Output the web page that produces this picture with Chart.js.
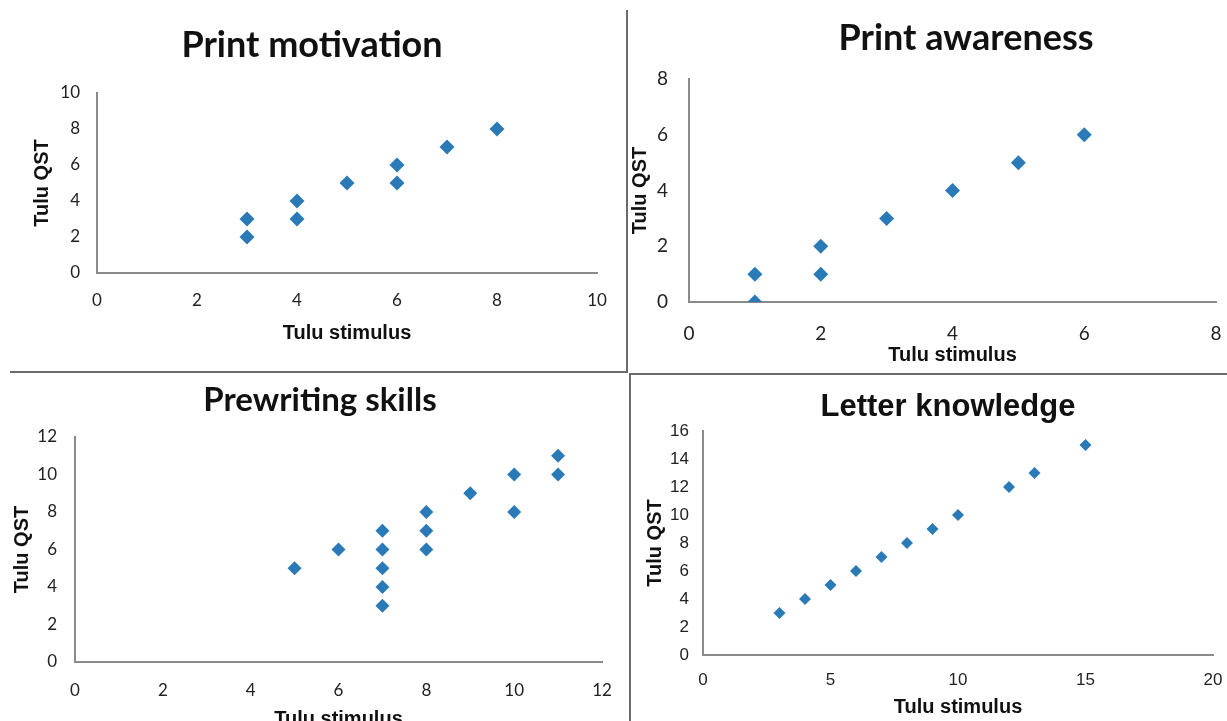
<!DOCTYPE html>
<html>
<head>
<meta charset="utf-8">
<script src="https://cdn.jsdelivr.net/npm/chart.js@4.4.1/dist/chart.umd.min.js"></script>
<style>
  html, body { margin: 0; padding: 0; background: #fff; width: 1227px; height: 721px; overflow: hidden; position: relative; }
  canvas { position: absolute; }
  .div-line { position: absolute; background: #6b6b6b; z-index: 5; }
</style>
</head>
<body>
<canvas id="c1" width="624" height="370" style="left:0px;top:0px;"></canvas>
<canvas id="c2" width="676" height="370" style="left:628px;top:0px;"></canvas>
<canvas id="c3" width="640" height="370" style="left:0px;top:376px;"></canvas>
<canvas id="c4" width="632" height="370" style="left:632px;top:376px;"></canvas>
<div class="div-line" style="left:626px;top:10px;width:2px;height:363px;"></div>
<div class="div-line" style="left:10px;top:371px;width:618px;height:2px;"></div>
<div class="div-line" style="left:629px;top:373px;width:598px;height:2px;"></div>
<div class="div-line" style="left:629px;top:373px;width:2px;height:348px;"></div>
<script>
// ---- Data ----
const titles = ["Print motivation", "Print awareness", "Prewriting skills", "Letter knowledge"];
const xAxisTitle = "Tulu stimulus";
const yAxisTitle = "Tulu QST";

const motivationX = [3, 3, 4, 4, 5, 6, 6, 7, 8];
const motivationY = [3, 2, 4, 3, 5, 6, 5, 7, 8];

const awarenessX = [1, 1, 2, 2, 3, 4, 5, 6];
const awarenessY = [1, 0, 2, 1, 3, 4, 5, 6];

const prewritingX = [5, 6, 7, 7, 7, 7, 7, 8, 8, 8, 9, 10, 10, 11, 11];
const prewritingY = [5, 6, 7, 6, 5, 4, 3, 8, 7, 6, 9, 10, 8, 11, 10];

const letterX = [3, 4, 5, 6, 7, 8, 9, 10, 12, 13, 15];
const letterY = [3, 4, 5, 6, 7, 8, 9, 10, 12, 13, 15];

// axis ranges [min, max, step]
const xRanges = [[0, 10, 2], [0, 8, 2], [0, 12, 2], [0, 20, 5]];
const yRanges = [[0, 10, 2], [0, 8, 2], [0, 12, 2], [0, 16, 2]];

// ---- Rendering ----
const MARKER = '#2a7ab8';
const AXIS = '#8a8a8a';

function makeChart(id, xs, ys, idx, L) {
  const pts = xs.map((x, i) => ({ x: x, y: ys[i] }));
  const xr = xRanges[idx], yr = yRanges[idx];
  return new Chart(document.getElementById(id), {
    type: 'scatter',
    data: { datasets: [{ data: pts, backgroundColor: MARKER, borderWidth: 0, pointStyle: 'rectRot', pointRadius: L.r, pointHoverRadius: L.r }] },
    options: {
      responsive: false, animation: false,
      layout: { padding: { left: 0, top: 0, bottom: 0, right: 0 } },
      plugins: {
        legend: { display: false }, tooltip: { enabled: false },
        title: { display: true, text: titles[idx], color: '#111',
          font: { family: L.titleFont, size: L.titleSize, weight: 'bold', lineHeight: 1.2 },
          padding: { top: L.titleTop, bottom: L.titleBottom } }
      },
      scales: {
        x: { type: 'linear', min: xr[0], max: xr[1],
          ticks: { stepSize: xr[2], padding: L.xTickPad, color: '#222', font: { family: L.tickFont, size: L.tickSize } },
          grid: { display: true, color: 'rgba(0,0,0,0)', drawTicks: false },
          border: { display: true, color: AXIS, width: 2 },
          title: { display: true, text: xAxisTitle, color: '#111', font: { family: 'Liberation Sans', size: 20, weight: 'bold', lineHeight: 1.2 }, padding: { top: 0, bottom: L.xTitlePad } },
          afterFit: s => { s.height = L.xH; } },
        y: { type: 'linear', min: yr[0], max: yr[1],
          ticks: { stepSize: yr[2], padding: L.yTickPad, color: '#222', font: { family: L.tickFont, size: L.tickSize } },
          grid: { display: true, color: 'rgba(0,0,0,0)', drawTicks: false },
          border: { display: true, color: AXIS, width: 2 },
          title: { display: true, text: yAxisTitle, color: '#111', font: { family: 'Liberation Sans', size: 20, weight: 'bold', lineHeight: 1.2 }, padding: { top: L.yTitlePad, bottom: 0 } },
          afterFit: s => { s.width = L.yW; } },
        spacer: { type: 'linear', position: 'right', display: true, min: 0, max: 1,
          ticks: { display: false }, grid: { display: false, drawTicks: false }, border: { display: false },
          afterFit: s => { s.width = L.rightW; } }
      }
    }
  });
}

makeChart('c1', motivationX, motivationY, 0, { r: 7.5, rightW: 27, xH: 97, yW: 97, titleFont: 'Lato', titleSize: 36, titleTop: 23.4, titleBottom: 26.4, yTitlePad: 30, xTitlePad: 25, xTickPad: 17, yTickPad: 17, tickFont: 'Lato', tickSize: 17 });
makeChart('c2', awarenessX, awarenessY, 1, { r: 7.5, rightW: 88, xH: 68, yW: 61, titleFont: 'Lato', titleSize: 36, titleTop: 16.4, titleBottom: 19.4, yTitlePad: 0, xTitlePad: 3, xTickPad: 20, yTickPad: 21, tickFont: 'Lato', tickSize: 19 });
makeChart('c3', prewritingX, prewritingY, 2, { r: 7, rightW: 38, xH: 84, yW: 75, titleFont: 'Lato', titleSize: 33, titleTop: 4.2, titleBottom: 17.2, yTitlePad: 10, xTitlePad: 15, xTickPad: 18, yTickPad: 18, tickFont: 'Lato', tickSize: 17 });
makeChart('c4', letterX, letterY, 3, { r: 6, rightW: 51, xH: 91, yW: 71, titleFont: 'Liberation Sans', titleSize: 31, titleTop: 12.4, titleBottom: 5.4, yTitlePad: 11, xTitlePad: 27, xTickPad: 15, yTickPad: 14, tickFont: 'Liberation Sans', tickSize: 17 });
</script>
</body>
</html>
